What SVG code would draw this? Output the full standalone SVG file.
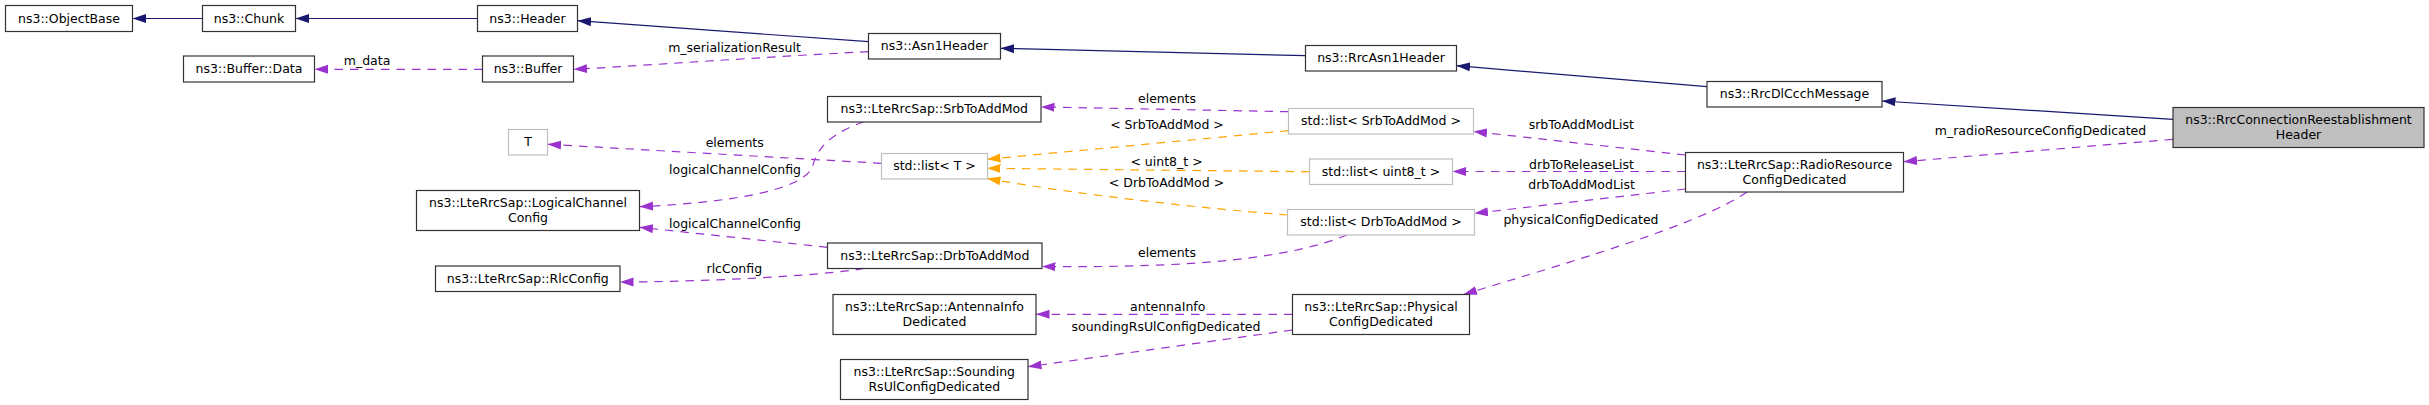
<svg xmlns="http://www.w3.org/2000/svg" width="2429" height="405" viewBox="0 0 2429 405">
<style>
text{font-family:"DejaVu Sans",sans-serif;font-size:12.5px;fill:#000}
.node rect{fill:#fff;stroke:#333;stroke-width:1.2}
.node.gray rect{stroke:#bfbfbf}
.node.hl rect{fill:#bfbfbf}
.node text,.lbl{text-anchor:middle}
.e{fill:none;stroke-width:1.2}
.inh{stroke:#191970;marker-end:url(#ab)}
.use{stroke:#9a32cd;stroke-dasharray:8.5,7;marker-end:url(#ap)}
.tpl{stroke:#ffa500;stroke-dasharray:8.5,7;marker-end:url(#ao)}
</style>
<defs>
<marker id="ab" viewBox="0 0 14 10" refX="13.5" refY="5" markerWidth="14" markerHeight="10" orient="auto" markerUnits="userSpaceOnUse"><path d="M0,0.5L13.5,5L0,9.5z" fill="#191970"/></marker>
<marker id="ap" viewBox="0 0 14 10" refX="13.5" refY="5" markerWidth="14" markerHeight="10" orient="auto" markerUnits="userSpaceOnUse"><path d="M0,0.5L13.5,5L0,9.5z" fill="#9a32cd"/></marker>
<marker id="ao" viewBox="0 0 14 10" refX="13.5" refY="5" markerWidth="14" markerHeight="10" orient="auto" markerUnits="userSpaceOnUse"><path d="M0,0.5L13.5,5L0,9.5z" fill="#ffa500"/></marker>
</defs>
<rect width="2429" height="405" fill="#fff"/>
<g id="connectors">
<path class="e inh" d="M202.5,18.5L132.5,18.5"/>
<path class="e inh" d="M477.5,18.5L295.5,18.5"/>
<path class="e inh" d="M868.5,41.7L577.5,20.7"/>
<path class="e inh" d="M1305.5,55.7L1000.5,48.3"/>
<path class="e inh" d="M1707,86.7L1456.5,65.7"/>
<path class="e inh" d="M2173,119.3L1882,101"/>
<path class="e use" d="M482.5,69.3L314.5,69.3"/>
<text class="lbl" x="367" y="65">m_data</text>
<path class="e use" d="M868.5,51.7C760,57 640,66 573.5,69.3"/>
<text class="lbl" x="734.5" y="51.5">m_serializationResult</text>
<path class="e use" d="M1288.5,111.7L1041,106.9"/>
<text class="lbl" x="1167" y="102.5">elements</text>
<path class="e use" d="M881.5,163.3L547.5,144.3"/>
<text class="lbl" x="734.7" y="147">elements</text>
<path class="e use" d="M864,121.7C835,132 818,145 813,165C806,192 720,203 639.5,206.7"/>
<text class="lbl" x="735" y="174.3">logicalChannelConfig</text>
<path class="e use" d="M827.5,247.3L639.5,227.3"/>
<text class="lbl" x="735" y="228">logicalChannelConfig</text>
<path class="e use" d="M864,268.5C820,276 700,282 620,282"/>
<text class="lbl" x="734.3" y="272.7">rlcConfig</text>
<path class="e use" d="M1347,235C1290,258 1200,268 1042,266.5"/>
<text class="lbl" x="1167" y="256.7">elements</text>
<path class="e use" d="M1685.5,155L1473.5,131.5"/>
<text class="lbl" x="1581.3" y="129.3">srbToAddModList</text>
<path class="e use" d="M1685.5,171.5L1452.5,171.5"/>
<text class="lbl" x="1581.5" y="169">drbToReleaseList</text>
<path class="e use" d="M1685.5,189L1474.5,213.3"/>
<text class="lbl" x="1581.5" y="188.7">drbToAddModList</text>
<path class="e use" d="M1747,192C1700,225 1560,265 1463.4,294.5"/>
<text class="lbl" x="1581" y="224.3">physicalConfigDedicated</text>
<path class="e use" d="M1292.5,314.3L1036,314.3"/>
<text class="lbl" x="1167.7" y="311">antennaInfo</text>
<path class="e use" d="M1292.5,330L1028,366.7"/>
<text class="lbl" x="1166" y="331">soundingRsUlConfigDedicated</text>
<path class="e use" d="M2173,139.3L1903.5,161.7"/>
<text class="lbl" x="2040.5" y="135">m_radioResourceConfigDedicated</text>
<path class="e tpl" d="M1288.5,130.7L987,159.3"/>
<text class="lbl" x="1167" y="129.3">&lt; SrbToAddMod &gt;</text>
<path class="e tpl" d="M1309.5,171.7L987,168.3"/>
<text class="lbl" x="1166.5" y="166">&lt; uint8_t &gt;</text>
<path class="e tpl" d="M1287.5,215C1200,208 1080,195 987,178.5"/>
<text class="lbl" x="1166.5" y="187.3">&lt; DrbToAddMod &gt;</text>
</g>
<g id="n_objectbase" class="node"><rect x="5.5" y="5.5" width="127" height="26"/><text x="69" y="22.5">ns3::ObjectBase</text></g>
<g id="n_chunk" class="node"><rect x="202.5" y="5.5" width="93" height="26"/><text x="249" y="22.5">ns3::Chunk</text></g>
<g id="n_header" class="node"><rect x="477.5" y="5.5" width="100" height="26"/><text x="527.5" y="22.5">ns3::Header</text></g>
<g id="n_bufferdata" class="node"><rect x="183.5" y="56" width="131" height="26"/><text x="249" y="73">ns3::Buffer::Data</text></g>
<g id="n_buffer" class="node"><rect x="482.5" y="56" width="91" height="26"/><text x="528" y="73">ns3::Buffer</text></g>
<g id="n_asn1header" class="node"><rect x="868.5" y="33.5" width="132" height="25.5"/><text x="934.5" y="50.3">ns3::Asn1Header</text></g>
<g id="n_rrcasn1header" class="node"><rect x="1305.5" y="45.5" width="151" height="25.5"/><text x="1381" y="62.3">ns3::RrcAsn1Header</text></g>
<g id="n_rrcdlccchmessage" class="node"><rect x="1707" y="81.5" width="175" height="25.5"/><text x="1794.5" y="98.3">ns3::RrcDlCcchMessage</text></g>
<g id="n_reestablishment" class="node hl"><rect x="2173" y="107.5" width="251" height="40"/><text x="2298.5" y="124">ns3::RrcConnectionReestablishment</text><text x="2298.5" y="139">Header</text></g>
<g id="n_srbtoaddmod" class="node"><rect x="827.5" y="96.5" width="213.5" height="25.5"/><text x="934.3" y="113.3">ns3::LteRrcSap::SrbToAddMod</text></g>
<g id="n_t" class="node gray"><rect x="508.5" y="129.5" width="39" height="25.5"/><text x="528" y="146.3">T</text></g>
<g id="n_list_t" class="node gray"><rect x="881.5" y="153.5" width="106" height="25.5"/><text x="934.5" y="170.3">std::list&lt; T &gt;</text></g>
<g id="n_list_srb" class="node gray"><rect x="1288.5" y="108.5" width="185" height="25.5"/><text x="1381" y="125.3">std::list&lt; SrbToAddMod &gt;</text></g>
<g id="n_list_uint8" class="node gray"><rect x="1309.5" y="159" width="143" height="25.5"/><text x="1381" y="175.8">std::list&lt; uint8_t &gt;</text></g>
<g id="n_list_drb" class="node gray"><rect x="1287.5" y="209.5" width="187" height="25.5"/><text x="1381" y="226.3">std::list&lt; DrbToAddMod &gt;</text></g>
<g id="n_radioresource" class="node"><rect x="1685.5" y="152.5" width="218" height="39.5"/><text x="1794.5" y="168.8">ns3::LteRrcSap::RadioResource</text><text x="1794.5" y="183.8">ConfigDedicated</text></g>
<g id="n_logicalchannel" class="node"><rect x="416.5" y="190.5" width="223" height="40"/><text x="528" y="206.8">ns3::LteRrcSap::LogicalChannel</text><text x="528" y="221.8">Config</text></g>
<g id="n_drbtoaddmod" class="node"><rect x="827.5" y="243" width="214.5" height="25.5"/><text x="934.8" y="259.8">ns3::LteRrcSap::DrbToAddMod</text></g>
<g id="n_rlcconfig" class="node"><rect x="435.5" y="266" width="184.5" height="25.5"/><text x="527.8" y="282.8">ns3::LteRrcSap::RlcConfig</text></g>
<g id="n_antennainfo" class="node"><rect x="833" y="294.5" width="203" height="40"/><text x="934.5" y="311">ns3::LteRrcSap::AntennaInfo</text><text x="934.5" y="326">Dedicated</text></g>
<g id="n_sounding" class="node"><rect x="840.5" y="359.5" width="187.5" height="40"/><text x="934.3" y="376">ns3::LteRrcSap::Sounding</text><text x="934.3" y="391">RsUlConfigDedicated</text></g>
<g id="n_physical" class="node"><rect x="1292.5" y="294.5" width="177" height="40"/><text x="1381" y="311">ns3::LteRrcSap::Physical</text><text x="1381" y="326">ConfigDedicated</text></g>
</svg>
